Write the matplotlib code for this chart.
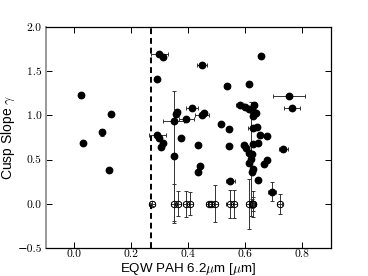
import matplotlib
matplotlib.use("Agg")
import matplotlib.pyplot as plt
from matplotlib.ticker import FuncFormatter, FixedLocator

plt.rcParams['mathtext.fontset'] = 'cm'
plt.rcParams['font.family'] = ['Liberation Sans', 'DejaVu Sans']

# Filled points: detections
det_x = [0.024, 0.031, 0.096, 0.129, 0.122, 0.297, 0.312, 0.291, 0.291, 0.298,
         0.312, 0.303, 0.350, 0.348, 0.357, 0.361, 0.375, 0.392, 0.413, 0.432,
         0.432, 0.439, 0.447, 0.447, 0.453, 0.514, 0.535, 0.544, 0.543, 0.547,
         0.581, 0.599, 0.611, 0.632, 0.622, 0.637, 0.628, 0.611, 0.654, 0.752,
         0.763, 0.625, 0.640, 0.652, 0.677, 0.596, 0.601, 0.625, 0.643, 0.613,
         0.622, 0.620, 0.611, 0.677, 0.667, 0.625, 0.622, 0.646, 0.693, 0.733]
det_y = [1.228, 0.690, 0.810, 1.016, 0.386, 1.690, 1.657, 1.408, 0.778, 0.750,
         0.684, 0.639, 0.540, 0.940, 1.016, 1.035, 0.740, 0.959, 1.087, 0.665,
         0.363, 0.430, 1.567, 1.000, 1.024, 0.900, 1.335, 0.850, 0.657, 0.258,
         1.115, 1.095, 1.072, 1.115, 1.061, 1.030, 0.993, 1.357, 1.675, 1.225,
         1.085, 0.862, 0.870, 0.778, 0.765, 0.665, 0.635, 0.673, 0.684, 0.580,
         0.560, 0.507, 0.467, 0.500, 0.456, 0.394, 0.356, 0.268, 0.137, 0.616]
det_xerr = [0.008, 0, 0.005, 0, 0, 0.030, 0, 0, 0.030, 0,
            0, 0, 0, 0.038, 0, 0, 0, 0.026, 0.022, 0,
            0, 0.010, 0.018, 0.025, 0, 0, 0.010, 0, 0, 0.015,
            0.015, 0, 0, 0, 0, 0, 0, 0, 0, 0.056,
            0.029, 0.015, 0, 0, 0, 0, 0, 0, 0, 0,
            0, 0, 0, 0, 0, 0, 0, 0, 0.015, 0.016]
det_yerr = [0.030, 0, 0.040, 0, 0, 0, 0, 0, 0, 0,
            0, 0, 0.735, 0, 0, 0, 0, 0, 0, 0.020,
            0, 0, 0, 0, 0, 0, 0, 0, 0, 0,
            0, 0, 0, 0.040, 0, 0, 0, 0, 0, 0,
            0, 0, 0, 0, 0, 0, 0, 0, 0, 0,
            0, 0.640, 0, 0, 0, 0, 0, 0, 0.110, 0]

# Open circles: gamma = 0 (cores)
core_x = [0.272, 0.348, 0.365, 0.391, 0.406, 0.472, 0.480, 0.494, 0.546, 0.561,
          0.611, 0.625, 0.628, 0.622, 0.720]
core_y = [0.0] * 15
core_xerr = [0.010, 0.010, 0.010, 0.010, 0.010, 0.010, 0.010, 0.010, 0.015, 0.010,
             0.010, 0.010, 0.010, 0.010, 0.010]
core_yerr = [0.030, 0.220, 0.140, 0.150, 0.130, 0.020, 0.020, 0.210, 0.160, 0.160,
             0.280, 0.150, 0.080, 0.050, 0.110]

x_ticks = [0.0, 0.2, 0.4, 0.6, 0.8]
y_ticks = [-0.5, 0.0, 0.5, 1.0, 1.5, 2.0]
pah_limit = 0.27

fig = plt.figure(figsize=(3.68, 2.76), dpi=100)
ax = fig.add_axes([0.125, 0.1014, 0.774, 0.8006])

ax.errorbar(det_x, det_y, xerr=det_xerr, yerr=det_yerr, fmt='o', color='k',
            ms=4.6, ecolor='#333333', elinewidth=0.7, capsize=1.5, capthick=0.7,
            zorder=3)
ax.errorbar(core_x, core_y, xerr=core_xerr, yerr=core_yerr, fmt='o', mfc='none',
            mec='k', mew=0.7, ms=4.6, ecolor='#333333', elinewidth=0.7,
            capsize=1.5, capthick=0.7, zorder=3)

ax.axvline(pah_limit, color='k', ls='--', lw=1.4, dashes=(3, 2), zorder=2)

ax.set_xlim(-0.1, 0.9)
ax.set_ylim(-0.5, 2.0)
ax.xaxis.set_major_locator(FixedLocator(x_ticks))
ax.yaxis.set_major_locator(FixedLocator(y_ticks))
fmt = FuncFormatter(lambda v, p: f'{v:.1f}'.replace('-', '\u2212'))
ax.xaxis.set_major_formatter(fmt)
ax.yaxis.set_major_formatter(fmt)
ax.tick_params(direction='in', top=True, right=True, length=4.5, width=0.7,
               labelsize=8.3)
ax.tick_params(axis='x', pad=1.2)
ax.tick_params(axis='y', pad=3)
for lab in ax.get_xticklabels() + ax.get_yticklabels():
    lab.set_fontfamily(['cmr10', 'DejaVu Serif'])

for s in ['top', 'right', 'bottom']:
    ax.spines[s].set_linewidth(0.9)
ax.spines['left'].set_color('#999999')
ax.spines['left'].set_linewidth(1.4)

ax.set_xlabel(r'EQW PAH 6.2$\mu$m [$\mu$m]', fontsize=9.6, va='bottom')
ax.set_ylabel(r'Cusp Slope $\gamma$', fontsize=10)
ax.xaxis.set_label_coords(0.5, -0.129)
ax.yaxis.set_label_coords(-0.102, 0.5)

fig.savefig('out.png', dpi=100)
